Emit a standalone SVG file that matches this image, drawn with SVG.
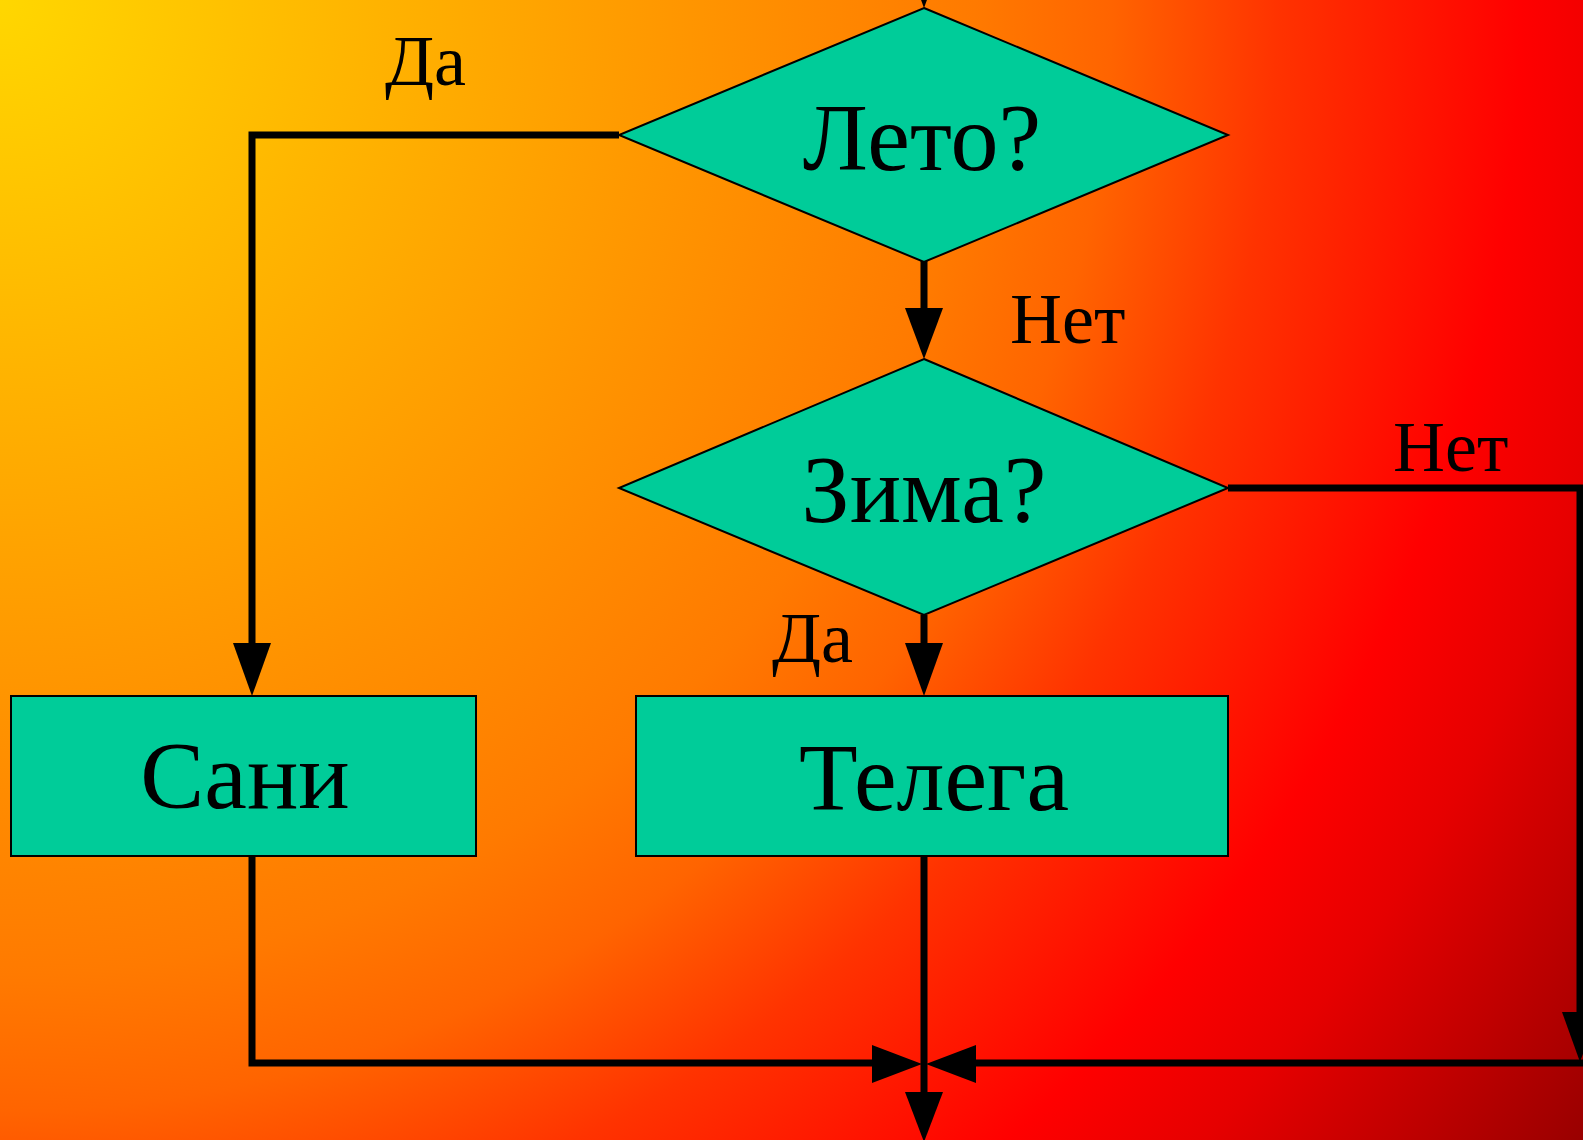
<svg xmlns="http://www.w3.org/2000/svg" width="1583" height="1140" viewBox="0 0 1583 1140">
<style>
.shape{fill:#00CC99;stroke:#000;stroke-width:2}
.big{font-family:"Liberation Serif","Times New Roman",serif;font-size:96px;fill:#000;text-anchor:middle}
.lbl{font-family:"Liberation Serif","Times New Roman",serif;font-size:72px;fill:#000}
.line{fill:none;stroke:#000;stroke-width:7}
.head{fill:#000}
</style>
<defs>
<radialGradient id="bg" gradientUnits="userSpaceOnUse" cx="0" cy="0" r="1950">
<stop offset="0" stop-color="#FFD700"/>
<stop offset="0.22" stop-color="#FFAE00"/>
<stop offset="0.5" stop-color="#FF7A00"/>
<stop offset="0.57" stop-color="#FF6400"/>
<stop offset="0.655" stop-color="#FF3300"/>
<stop offset="0.78" stop-color="#FF0000"/>
<stop offset="0.85" stop-color="#E60000"/>
<stop offset="0.925" stop-color="#C00000"/>
<stop offset="1" stop-color="#990000"/>
</radialGradient>
</defs>
<rect x="0" y="0" width="1583" height="1140" fill="url(#bg)"/>

<g id="connectors">
<polygon class="head" points="905,-44 943,-44 924,8"/>
<polyline class="line" points="619,135 252,135 252,645"/>
<polygon class="head" points="233,643 271,643 252,696"/>
<line class="line" x1="924" y1="248" x2="924" y2="310"/>
<polygon class="head" points="905,308 943,308 924,359"/>
<line class="line" x1="924" y1="615" x2="924" y2="645"/>
<polygon class="head" points="905,643 943,643 924,696"/>
<polyline class="line" points="1228,488 1580,488 1580,1014"/>
<polygon class="head" points="1562,1012 1598,1012 1580,1062"/>
<polyline class="line" points="252,856 252,1063 874,1063"/>
<polygon class="head" points="872,1045 872,1083 922,1064"/>
<line class="line" x1="1583" y1="1063" x2="974" y2="1063"/>
<polygon class="head" points="976,1045 976,1083 926,1064"/>
<line class="line" x1="924" y1="856" x2="924" y2="1094"/>
<polygon class="head" points="905,1092 943,1092 924,1142"/>
</g>

<g id="leto">
<polygon class="shape" points="924,8 1228,135 924,262 619,135"/>
<text class="big" x="922" y="170">Лето?</text>
</g>
<g id="zima">
<polygon class="shape" points="924,359 1228,488 924,615 619,488"/>
<text class="big" x="924" y="522">Зима?</text>
</g>
<g id="sani">
<rect class="shape" x="11" y="696" width="465" height="160"/>
<text class="big" x="245" y="808">Сани</text>
</g>
<g id="telega">
<rect class="shape" x="636" y="696" width="592" height="160"/>
<text class="big" x="934" y="810">Телега</text>
</g>

<g id="labels">
<text class="lbl" x="385" y="85">Да</text>
<text class="lbl" x="1010" y="343">Нет</text>
<text class="lbl" x="1393" y="471">Нет</text>
<text class="lbl" x="772" y="662">Да</text>
</g>
</svg>
